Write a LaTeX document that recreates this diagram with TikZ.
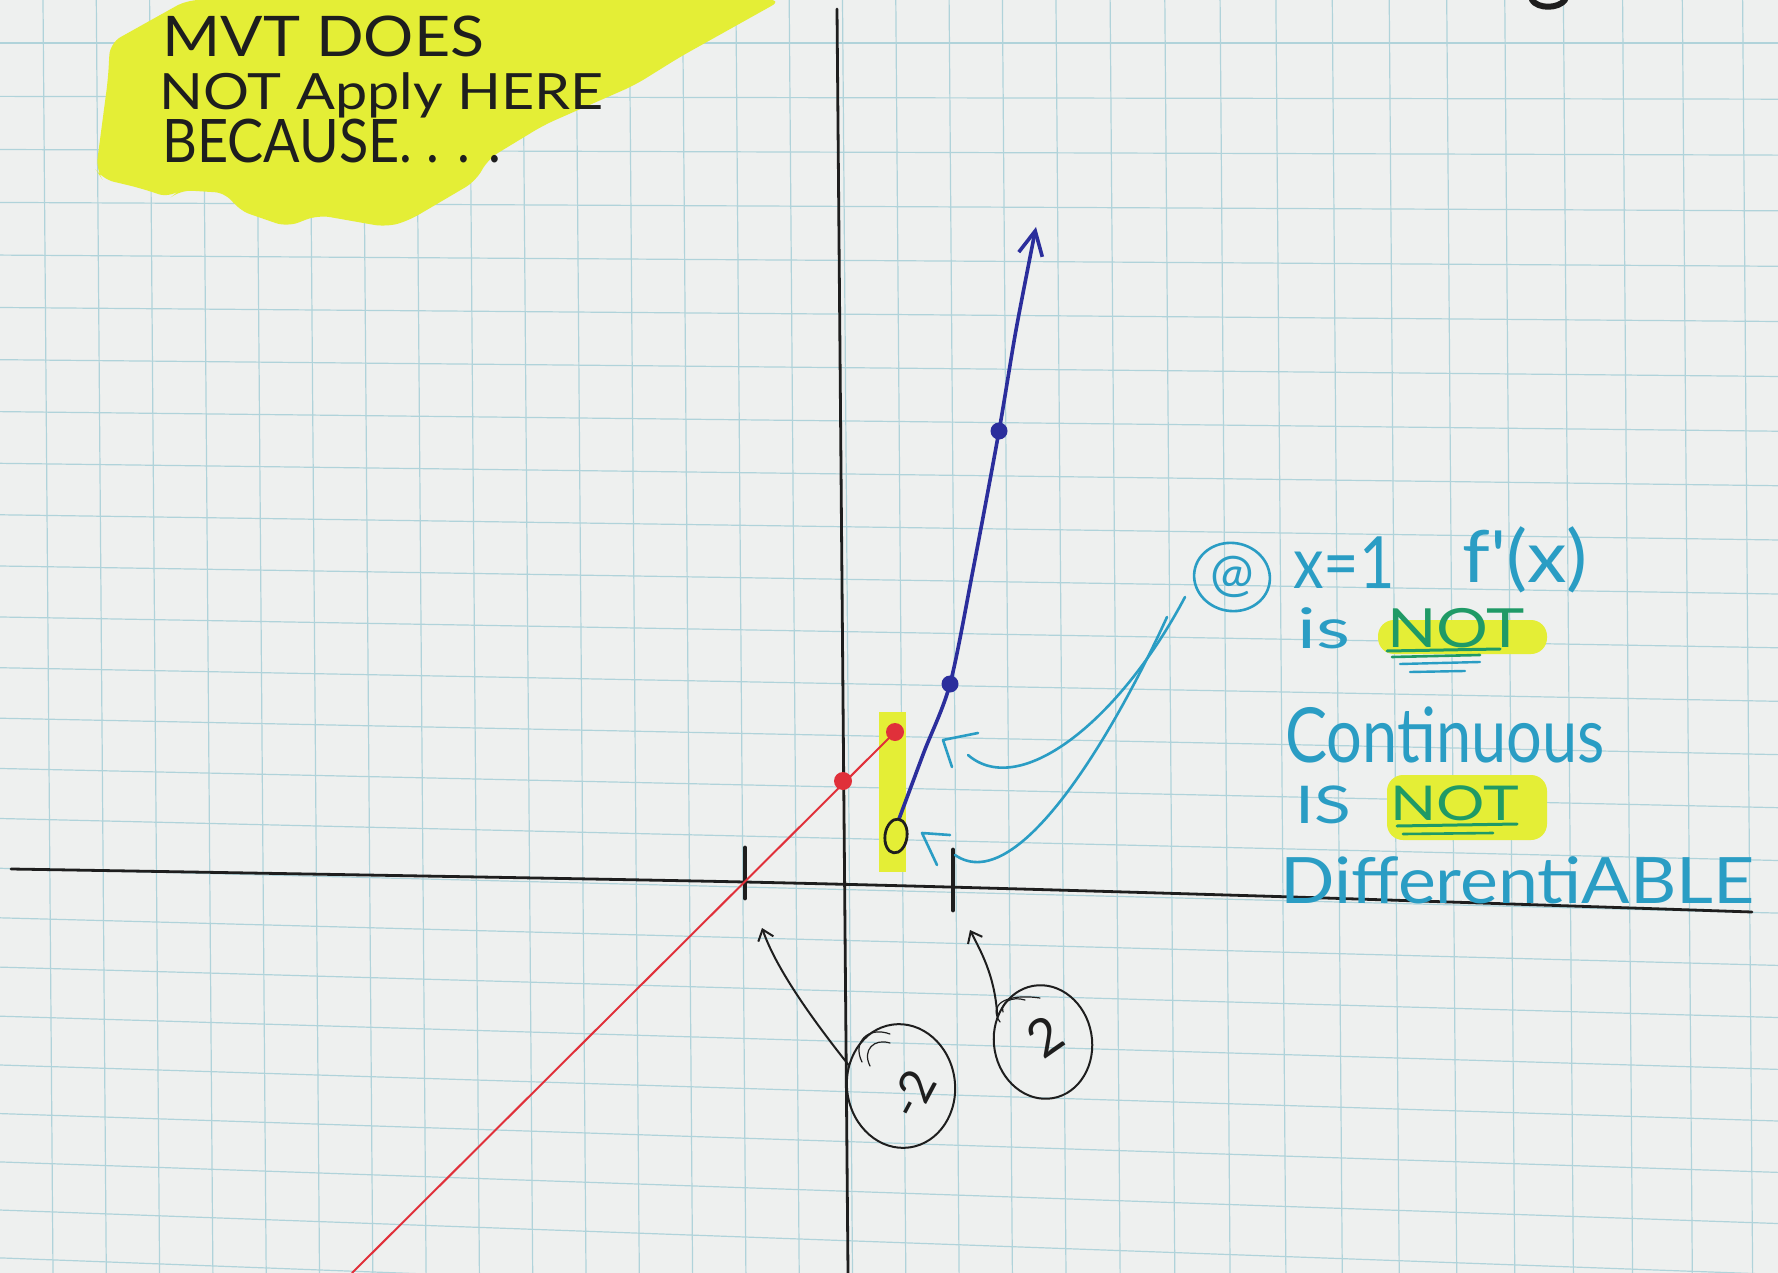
\documentclass[tikz,border=0pt]{standalone}
\usepackage{fontspec}
\usepackage{graphicx}
\usetikzlibrary{shapes.geometric,arrows.meta}
\newfontfamily\hand{Lato}
\definecolor{paper}{HTML}{EEF0EF}
\definecolor{gridc}{HTML}{B0D3DA}
\definecolor{hl}{HTML}{E4EE36}
\definecolor{ink}{HTML}{1E1E1E}
\definecolor{redink}{HTML}{E0303A}
\definecolor{blueink}{HTML}{2B2E9C}
\definecolor{cyanink}{HTML}{2A9DC4}
\definecolor{greenink}{HTML}{1F9A66}
\begin{document}
\begin{tikzpicture}[x=0.5pt,y=-0.5pt, line cap=round, line join=round,
  gridline/.style={draw=gridc, line width=0.6pt},
  axisline/.style={draw=ink, line width=1.4pt},
  tickmark/.style={draw=ink, line width=2.4pt},
  handtext/.style={inner sep=0pt, anchor=base west},
  blacktext/.style={handtext, text=ink},
  cyantext/.style={handtext, text=cyanink},
  greentext/.style={handtext, text=greenink},
  reddot/.style={circle, fill=redink, inner sep=0pt, minimum size=9pt},
  bluedot/.style={circle, fill=blueink, inner sep=0pt, minimum size=8.5pt},
  redline/.style={draw=redink, line width=1pt},
  blueline/.style={draw=blueink, line width=1.8pt},
  cyanline/.style={draw=cyanink, line width=1.3pt},
  blackarrow/.style={draw=ink, line width=1pt, -{Straight Barb[length=5pt,width=8pt]}},
  ring/.style={ellipse, draw=ink, line width=1pt, inner sep=0pt},
  cring/.style={ellipse, draw=cyanink, line width=1.3pt, inner sep=0pt},
]
\useasboundingbox (0,0) rectangle (1778,1273);
\fill[paper] (0,0) rectangle (1778,1273);

% grid paper
\foreach \k in {0,...,31} {
  \pgfmathsetmacro{\gx}{43+53.3*\k+0.28*(max(0,\k-18))^2}
  \draw[gridline] (\gx,0) -- (\gx+10,1273);
}
\foreach \j in {0,...,25} {
  \pgfmathsetmacro{\gy}{43+53.5*\j-0.12*\j*\j}
  \pgfmathsetmacro{\gyr}{\gy+2.8*\j}
  \draw[gridline] (0,\gy) -- (1778,\gyr);
}

% highlighter marks
\fill[hl, rounded corners=6pt] (187,0) -- (782,0) -- (680,57) -- (635,85) -- (544,125) -- (488,159) -- (476,181) -- (408,221) -- (386,227) -- (318,215) -- (287,227) -- (238,210) -- (227,193) -- (180,190) -- (170,198) -- (140,188) -- (102,179) -- (96,170) -- (108,79) -- (110,43) -- cycle;
\fill[hl, rounded corners=8pt] (1378,620) rectangle (1547,654);
\fill[hl, rounded corners=8pt] (1387,775) rectangle (1547,840);
\fill[hl] (879,712) rectangle (906,872);

% top-left note
\node[blacktext, font=\hand\fontsize{28}{30}\selectfont] (t1) at (162,57) {\scalebox{1.12}[1]{MVT DOES}};
\node[blacktext, font=\hand\fontsize{25}{30}\selectfont] (t2) at (159,110) {\scalebox{1.15}[1]{NOT Apply HERE}};
\node[blacktext, font=\hand\fontsize{30}{30}\selectfont] (t3) at (162,163) {\scalebox{0.9}[1]{BECAUSE. . . .}};

% fragment at top edge
\draw[ink, line width=3pt] (1532,0) .. controls (1538,9) and (1558,9) .. (1565,0);

% axes
\draw[axisline] (837,9) -- (848,1273);
\draw[axisline] plot[smooth] coordinates {(11,869) (745,882) (1260,896) (1752,912)};
\draw[tickmark] (745,848) -- (745,898);
\draw[tickmark] (953,850) -- (953,910);

% red piece
\coordinate (rs) at (352,1273);
\coordinate (rp1) at (843,781);
\coordinate (rp2) at (895,732);
\draw[redline] (rs) -- (rp2);
\node[reddot] (rd1) at (rp1) {};
\node[reddot] (rd2) at (rp2) {};

% blue piece
\coordinate (bs) at (899,819);
\coordinate (bm1) at (924,752);
\coordinate (bp1) at (950,684);
\coordinate (bm2) at (973,570);
\coordinate (bp2) at (999,431);
\coordinate (bm3) at (1016,330);
\coordinate (btip) at (1036,227);
\draw[blueline, -{Straight Barb[length=12pt,width=12pt]}] plot[smooth, tension=0.5] coordinates {(bs) (bm1) (bp1) (bm2) (bp2) (bm3) (btip)};
\node[bluedot] (bd1) at (bp1) {};
\node[bluedot] (bd2) at (bp2) {};
\node[ring, line width=1.4pt, minimum width=11pt, minimum height=17pt, rotate=-8] (oc) at (896,836) {};

% cyan note
\node[cring, minimum width=38pt, minimum height=34pt, rotate=-10] (atring) at (1232,577) {};
\node[cyantext, anchor=center, font=\hand\fontsize{26}{26}\selectfont] (atsym) at (atring.center) {@};
\node[cyantext, font=\hand\fontsize{36}{36}\selectfont] (l1a) at (1293,588) {\scalebox{0.85}[1]{x=1}};
\node[cyantext, font=\hand\fontsize{36}{36}\selectfont] (l1b) at (1462,582) {\scalebox{1.1}[1]{f'(x)}};
\node[cyantext, font=\hand\fontsize{28}{30}\selectfont] (l2a) at (1297,648) {\scalebox{1.4}[1]{is}};
\node[greentext, font=\hand\fontsize{27}{30}\selectfont] (l2b) at (1387,647) {\scalebox{1.2}[1]{NOT}};
\node[cyantext, font=\hand\fontsize{38}{40}\selectfont] (l3) at (1285,762) {\scalebox{0.83}[1]{Continuous}};
\node[cyantext, font=\hand\fontsize{26}{30}\selectfont] (l4a) at (1295,823) {\scalebox{1.3}[1]{IS}};
\node[greentext, font=\hand\fontsize{24}{30}\selectfont] (l4b) at (1390,820) {\scalebox{1.26}[1]{NOT}};
\node[cyantext, font=\hand\fontsize{32}{34}\selectfont] (l5) at (1280,903) {\scalebox{1.12}[1]{DifferentiABLE}};

% underlines
\draw[greenink, line width=1.5pt] (1387,651) -- (1500,649);
\draw[greenink, line width=1.3pt] (1392,657) -- (1480,655);
\draw[cyanink, line width=1.2pt] (1400,664) -- (1480,662);
\draw[cyanink, line width=1.2pt] (1410,672) -- (1465,671);
\draw[greenink, line width=1.5pt] (1397,826) -- (1517,824);
\draw[greenink, line width=1.3pt] (1403,834) -- (1493,833);

% cyan arrows
\coordinate (c1s) at (1185,597);
\coordinate (c1e) at (968,755);
\coordinate (h1a) at (978,733);
\coordinate (h1t) at (943,740);
\coordinate (h1b) at (952,767);
\draw[cyanline] (c1s) .. controls (1120,720) and (1020,800) .. (c1e);
\draw[cyanline] (h1a) -- (h1t) -- (h1b);
\coordinate (c2s) at (1167,617);
\coordinate (c2e) at (955,855);
\coordinate (h2a) at (950,835);
\coordinate (h2t) at (922,833);
\coordinate (h2b) at (937,865);
\draw[cyanline] (c2s) .. controls (1120,720) and (1020,900) .. (c2e);
\draw[cyanline] (h2a) -- (h2t) -- (h2b);

% circled labels
\node[ring, minimum width=54pt, minimum height=62pt, rotate=8] (cm2) at (901,1086) {};
\node[blacktext, anchor=center, rotate=62, font=\hand\fontsize{24}{24}\selectfont] (tm2) at (912,1094) {-2};
\coordinate (a1tip) at (762,928);
\draw[blackarrow] (cm2.150) .. controls (805,1010) and (775,965) .. (a1tip);
\draw[ink, line width=0.6pt] (862,1062) .. controls (852,1042) and (868,1026) .. (890,1034);
\draw[ink, line width=0.6pt] (870,1066) .. controls (862,1050) and (874,1038) .. (890,1043);

\node[ring, minimum width=49pt, minimum height=57pt, rotate=10] (cp2) at (1043,1042) {};
\node[blacktext, anchor=center, rotate=35, font=\hand\fontsize{26}{26}\selectfont] (tp2) at (1045,1036) {2};
\coordinate (a2tip) at (970,930);
\draw[blackarrow] (cp2.140) .. controls (995,975) and (980,950) .. (a2tip);
\draw[ink, line width=0.6pt] (1000,1022) .. controls (988,1005) and (1005,993) .. (1040,998);
\draw[ink, line width=0.6pt] (1003,1012) .. controls (1000,1002) and (1012,996) .. (1025,1000);
\end{tikzpicture}
\end{document}
